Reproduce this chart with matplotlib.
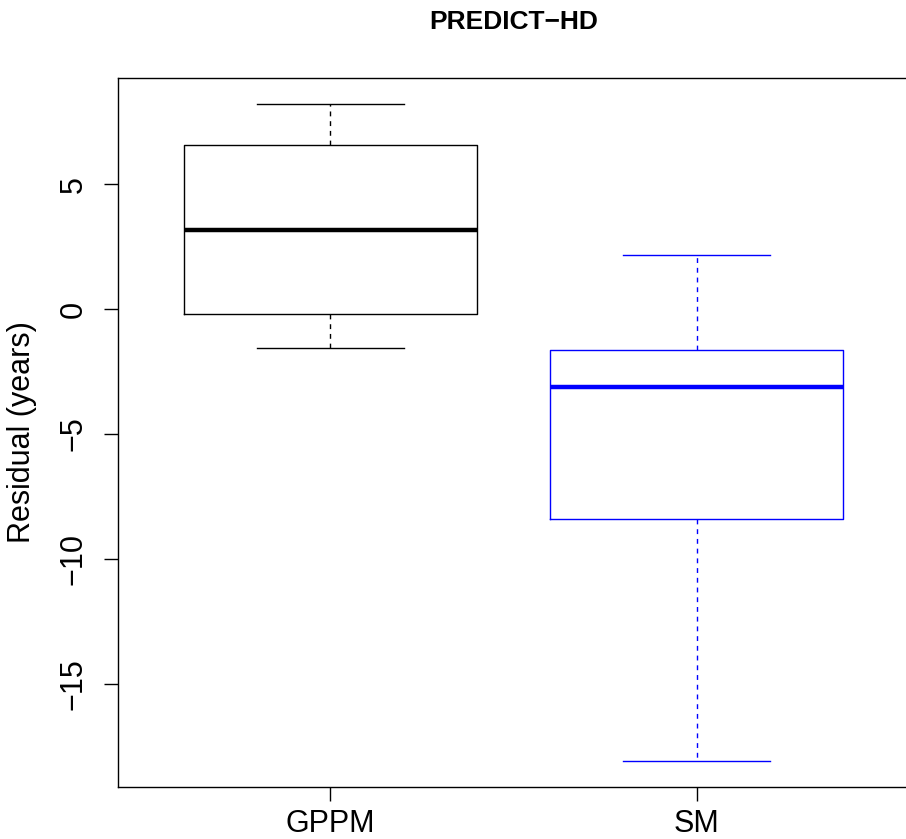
import matplotlib
matplotlib.use('Agg')
import matplotlib.pyplot as plt

# box statistics (years)
groups = ['GPPM', 'SM']
whisker_low = [-1.56, -18.08]
q1 = [-0.20, -8.42]
median = [3.16, -3.10]
q3 = [6.56, -1.64]
whisker_high = [8.20, 2.16]
box_colors = ['black', 'blue']

plt.rcParams['font.family'] = ['Liberation Sans', 'DejaVu Sans']

fig = plt.figure(figsize=(9.06, 8.39), dpi=100)
ax = fig.add_axes([118 / 906, 52 / 839, 791 / 906, 709 / 839])

for i, name in enumerate(groups):
    stats = [{'label': name, 'whislo': whisker_low[i], 'q1': q1[i],
              'med': median[i], 'q3': q3[i], 'whishi': whisker_high[i],
              'fliers': []}]
    c = box_colors[i]
    ax.bxp(stats, positions=[i + 1], widths=0.8, showfliers=False,
           boxprops=dict(color=c, linewidth=1.0),
           medianprops=dict(color=c, linewidth=3.2, solid_capstyle='butt'),
           whiskerprops=dict(color=c, linewidth=1.0, linestyle=(0, (3.5, 3.5))),
           capprops=dict(color=c, linewidth=1.0), capwidths=0.4)

ax.set_xlim(0.42, 2.58)
ax.set_ylim(-19.13, 9.25)
ax.set_xticks([1, 2])
ax.set_xticklabels(groups)
ax.set_yticks([-15, -10, -5, 0, 5])
ax.set_yticklabels(['\u221215', '\u221210', '\u22125', '0', '5'], rotation=90,
                   va='center')
ax.tick_params(axis='both', direction='out', length=10, width=1.0,
               labelsize=22, color='black')
ax.tick_params(axis='y', pad=11)
ax.tick_params(axis='x', pad=6)
for s in ax.spines.values():
    s.set_linewidth(1.0)

ax.set_ylabel('Residual (years)', fontsize=22)
ax.yaxis.set_label_coords(-0.102, 0.5)
ax.set_title('PREDICT\u2212HD', fontsize=19, fontweight='bold', pad=35)

fig.savefig('out.png', dpi=100)
